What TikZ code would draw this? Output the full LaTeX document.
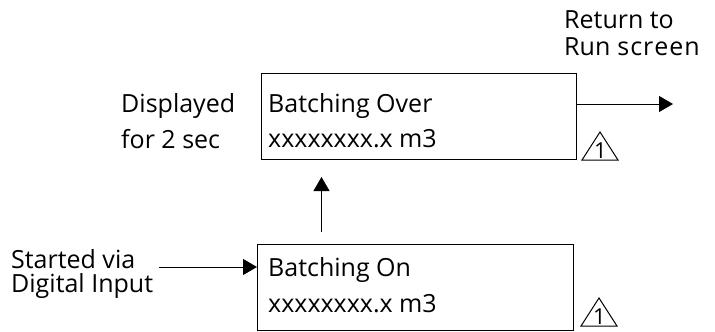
\documentclass[tikz,border=0pt]{standalone}
\usepackage{fontspec}
\setmainfont{Open Sans}
\usetikzlibrary{arrows.meta}
\begin{document}
\begin{tikzpicture}[x=1pt,y=-1pt,
  screen/.style={draw,line width=0.9pt},
  lbl/.style={inner sep=0pt,anchor=base west,font=\fontsize{25}{28}\selectfont},
  arr/.style={line width=0.9pt,-{Triangle[length=14pt,width=16pt]}},
  warn/.style={line width=1pt},
  warnnum/.style={inner sep=0pt,anchor=base,font=\fontsize{22}{22}\selectfont}]
\useasboundingbox (0,0) rectangle (715,332);
% boxes
\draw[screen] (261,73) rectangle (576,159);
\draw[screen] (257,244) rectangle (573,330);
% texts
\node[lbl] (t1) at (268,112) {Batching Over};
\node[lbl] (t2) at (268,147) {xxxxxxxx.x m3};
\node[lbl] (t3) at (268,276) {Batching On};
\node[lbl] (t4) at (268,312) {xxxxxxxx.x m3};
\node[lbl] (ret1) at (564,28) {Return to};
\node[lbl] (ret2) at (564,55) {Run\hspace{0.5pt} s\hspace{1pt}c\hspace{1pt}r\hspace{1pt}e\hspace{1pt}e\hspace{1pt}n};
\node[lbl] (d1) at (121,112) {Displayed};
\node[lbl] (d2) at (121,148) {for 2 sec};
\node[lbl] (s1) at (11,268) {Started via};
\node[lbl] (s2) at (11,292) {Digital Input};
% connectors
\coordinate (a1s) at (576,104);
\coordinate (a1e) at (673,104);
\draw[arr] (a1s) -- (a1e);
\coordinate (a2s) at (321.5,232);
\coordinate (a2e) at (321.5,177);
\draw[arr] (a2s) -- (a2e);
\coordinate (a3s) at (159,267);
\coordinate (a3e) at (257,267);
\draw[arr] (a3s) -- (a3e);
% warning triangles
\draw[warn] (582,160) -- (600,132) -- (618,160) -- cycle;
\node[warnnum] (w1) at (600.5,158) {1};
\draw[warn] (581,326) -- (599,298) -- (617,326) -- cycle;
\node[warnnum] (w2) at (599.5,324) {1};
\end{tikzpicture}
\end{document}
